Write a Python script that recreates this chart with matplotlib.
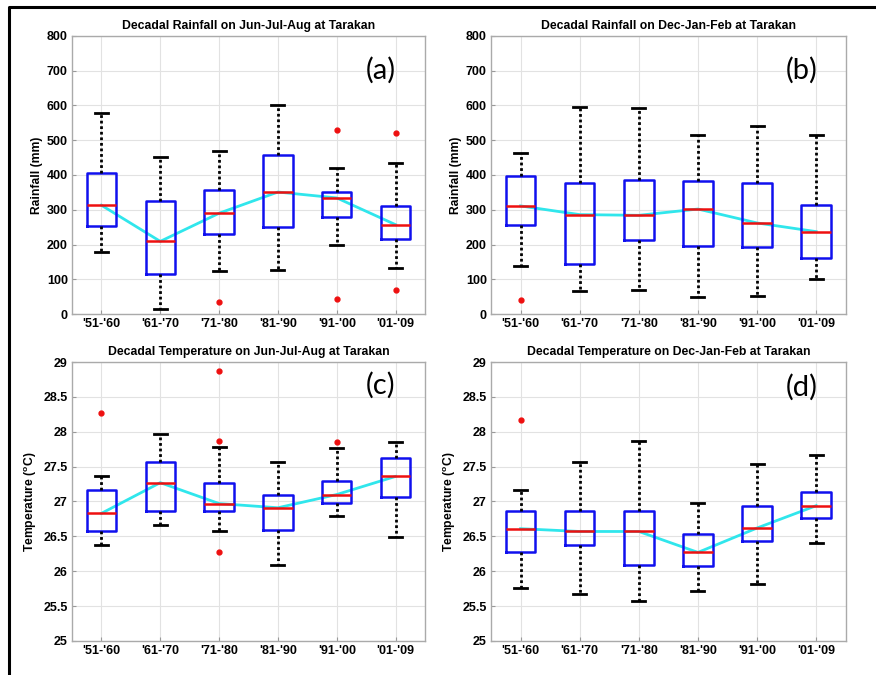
import matplotlib
matplotlib.use("Agg")
import matplotlib.pyplot as plt
from matplotlib.lines import Line2D

plt.rcParams["font.family"] = ["Liberation Sans", "DejaVu Sans"]
plt.rcParams["mathtext.default"] = "regular"

DECADES = ["'51-'60", "'61-'70", "'71-'80", "'81-'90", "'91-'00", "'01-'09"]

# Rainfall Jun-Jul-Aug (mm)
rain_jja_low = [177, 13, 124, 128, 200, 133]
rain_jja_q1 = [254, 115, 230, 249, 280, 217]
rain_jja_med = [313, 209, 290, 351, 334, 257]
rain_jja_q3 = [405, 326, 358, 457, 352, 310]
rain_jja_high = [579, 453, 470, 601, 421, 434]
rain_jja_out = [[], [], [35], [], [530, 43], [520, 70]]

# Rainfall Dec-Jan-Feb (mm)
rain_djf_low = [139, 65, 69, 48, 51, 100]
rain_djf_q1 = [257, 143, 212, 196, 192, 160]
rain_djf_med = [311, 286, 284, 302, 262, 237]
rain_djf_q3 = [396, 377, 386, 383, 377, 314]
rain_djf_high = [464, 596, 592, 516, 542, 515]
rain_djf_out = [[41], [], [], [], [], []]

# Temperature Jun-Jul-Aug (degC)
temp_jja_low = [26.37, 26.67, 26.57, 26.09, 26.79, 26.49]
temp_jja_q1 = [26.57, 26.87, 26.87, 26.59, 26.98, 27.07]
temp_jja_med = [26.83, 27.27, 26.97, 26.91, 27.10, 27.36]
temp_jja_q3 = [27.17, 27.56, 27.27, 27.10, 27.30, 27.62]
temp_jja_high = [27.37, 27.97, 27.78, 27.57, 27.76, 27.86]
temp_jja_out = [[28.27], [], [28.87, 27.87, 26.27], [], [27.86], []]

# Temperature Dec-Jan-Feb (degC)
temp_djf_low = [25.76, 25.67, 25.57, 25.71, 25.81, 26.40]
temp_djf_q1 = [26.27, 26.37, 26.09, 26.08, 26.44, 26.76]
temp_djf_med = [26.61, 26.57, 26.57, 26.27, 26.62, 26.94]
temp_djf_q3 = [26.86, 26.86, 26.86, 26.53, 26.94, 27.14]
temp_djf_high = [27.17, 27.57, 27.87, 26.98, 27.54, 27.67]
temp_djf_out = [[28.17], [], [], [], [], []]


def make_stats(low, q1, med, q3, high, out):
    return [dict(whislo=a, q1=b, med=c, q3=d, whishi=e, fliers=f)
            for a, b, c, d, e, f in zip(low, q1, med, q3, high, out)]


def draw_panel(ax, stats, medians, title, ylabel, ylim, yticks, ytlabels, tag, tag_y):
    pos = list(range(1, len(DECADES) + 1))
    ax.plot(pos, medians, color="#30e6ec", linewidth=2, zorder=2)
    ax.bxp(stats, positions=pos, widths=0.5, capwidths=[0.22] * len(pos),
           patch_artist=False, manage_ticks=False,
           boxprops=dict(color="#1010ee", linewidth=1.8),
           medianprops=dict(color="#ee1010", linewidth=1.8),
           whiskerprops=dict(color="black", linewidth=2, linestyle=(0, (1, 1))),
           capprops=dict(color="black", linewidth=2),
           flierprops=dict(marker="o", markersize=3.5, markerfacecolor="#ee1010",
                           markeredgecolor="#ee1010", linestyle="none"))
    ax.set_xlim(0.5, len(DECADES) + 0.5)
    ax.set_ylim(*ylim)
    ax.set_xticks(pos)
    ax.set_xticklabels(DECADES, fontsize=9, fontweight="bold")
    ax.set_yticks(yticks)
    ax.set_yticklabels(ytlabels, fontsize=9, fontweight="bold")
    ax.set_ylabel(ylabel, fontsize=8.7, fontweight="bold", labelpad=3)
    ax.set_title(title, fontsize=8.8, fontweight="bold", pad=5)
    ax.grid(True, color="#e2e2e2", linestyle="-", linewidth=0.8)
    ax.set_axisbelow(True)
    ax.tick_params(direction="in", length=3, color="#999999", pad=3)
    for sp in ax.spines.values():
        sp.set_color("#aaaaaa")
        sp.set_linewidth(1)
    ax.text(0.875, tag_y, tag, transform=ax.transAxes, fontsize=21,
            family=["Lato", "DejaVu Sans"], ha="center", va="center")


fig = plt.figure(figsize=(8.76, 6.75), dpi=100)
ax_a = fig.add_axes([0.0822, 0.5348, 0.403, 0.4119])
ax_b = fig.add_axes([0.5605, 0.5348, 0.405, 0.4119])
ax_c = fig.add_axes([0.0822, 0.0504, 0.403, 0.4133])
ax_d = fig.add_axes([0.5605, 0.0504, 0.405, 0.4133])

rain_ticks = [0, 100, 200, 300, 400, 500, 600, 700, 800]
rain_tl = [str(t) for t in rain_ticks]
temp_ticks = [25, 25.5, 26, 26.5, 27, 27.5, 28, 28.5, 29]
temp_tl = ["25", "25.5", "26", "26.5", "27", "27.5", "28", "28.5", "29"]

draw_panel(ax_a, make_stats(rain_jja_low, rain_jja_q1, rain_jja_med, rain_jja_q3,
                            rain_jja_high, rain_jja_out),
           rain_jja_med, "Decadal Rainfall on Jun-Jul-Aug at Tarakan",
           "Rainfall (mm)", (0, 800), rain_ticks, rain_tl, "(a)", 0.875)
draw_panel(ax_b, make_stats(rain_djf_low, rain_djf_q1, rain_djf_med, rain_djf_q3,
                            rain_djf_high, rain_djf_out),
           rain_djf_med, "Decadal Rainfall on Dec-Jan-Feb at Tarakan",
           "Rainfall (mm)", (0, 800), rain_ticks, rain_tl, "(b)", 0.875)
draw_panel(ax_c, make_stats(temp_jja_low, temp_jja_q1, temp_jja_med, temp_jja_q3,
                            temp_jja_high, temp_jja_out),
           temp_jja_med, "Decadal Temperature on Jun-Jul-Aug at Tarakan",
           "Temperature ($^{o}$C)", (25, 29), temp_ticks, temp_tl, "(c)", 0.915)
draw_panel(ax_d, make_stats(temp_djf_low, temp_djf_q1, temp_djf_med, temp_djf_q3,
                            temp_djf_high, temp_djf_out),
           temp_djf_med, "Decadal Temperature on Dec-Jan-Feb at Tarakan",
           "Temperature ($^{o}$C)", (25, 29), temp_ticks, temp_tl, "(d)", 0.91)

# black frame on the left and top of the figure
x0 = 9 / 876
y0 = 1 - 7 / 675
fig.add_artist(Line2D([x0, x0, 1], [0, y0, y0], transform=fig.transFigure,
                      color="black", linewidth=2.2))

fig.savefig("out.png", dpi=100)
